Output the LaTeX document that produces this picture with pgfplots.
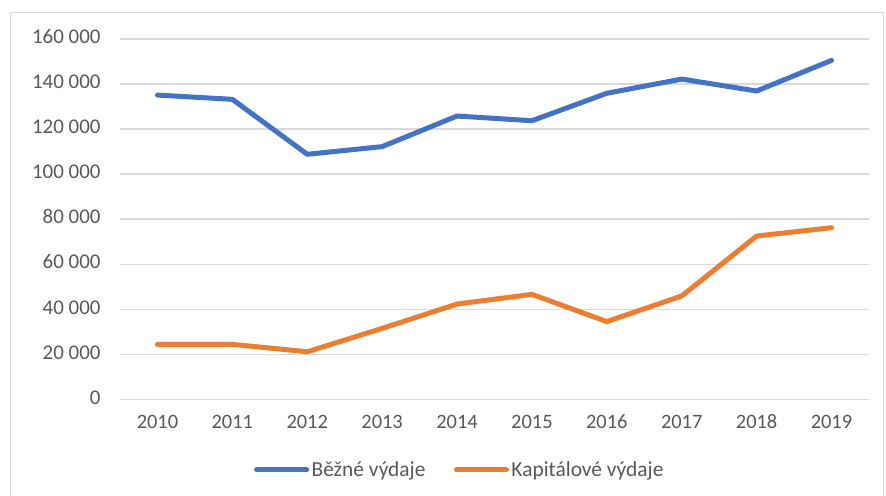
\documentclass[border=0pt]{standalone}
\usepackage{fontspec}
\setmainfont{Carlito}
\usepackage{pgfplots}
\pgfplotsset{compat=1.18}
\definecolor{cblue}{HTML}{4472C4}
\definecolor{corange}{HTML}{ED7D31}
\definecolor{cgrid}{HTML}{D9D9D9}
\definecolor{ctext}{HTML}{595959}
\definecolor{cframe}{HTML}{D9D9D9}
\begin{document}
\begin{tikzpicture}[x=1bp,y=1bp]
\useasboundingbox (0,0) rectangle (886,496);
\fill[white] (0,0) rectangle (886,496);
\draw[cframe, line width=1.3bp] (10.5,-2) -- (10.5,483.5) -- (883.5,483.5) -- (883.5,-2);
\begin{axis}[
  at={(120bp,96.7bp)}, anchor=south west,
  scale only axis, width=749bp, height=360.3bp,
  xmin=2009.5, xmax=2019.5, ymin=0, ymax=160000,
  axis line style={draw=none},
  tick style={draw=none},
  ymajorgrids, grid style={cgrid, line width=1.3bp},
  xtick={2010,...,2019},
  xticklabels={2010,2011,2012,2013,2014,2015,2016,2017,2018,2019},
  ytick={0,20000,40000,60000,80000,100000,120000,140000,160000},
  yticklabels={0,20 000,40 000,60 000,80 000,100 000,120 000,140 000,160 000},
  typeset ticklabels with strut,
  ticklabel style={text=ctext},
  yticklabel style={font=\fontsize{21}{24}\selectfont, xshift=-16bp},
  xticklabel style={font=\fontsize{20.5}{24}\selectfont, yshift=-9bp},
  scaled y ticks=false,
  legend columns=2,
  legend style={at={(0.454,-0.196)}, anchor=center, draw=none, fill=none,
    font=\fontsize{21.5}{24}\selectfont, text=ctext, inner sep=0pt,
    nodes={inner sep=2.5bp},
    /tikz/every even column/.append style={column sep=26bp}},
  legend image code/.code={\draw[#1, line cap=round] (0bp,0bp) -- (50bp,0bp);},
  every axis plot/.append style={line width=5bp, line join=round, line cap=round, mark=none},
]
\addplot[cblue] coordinates {
(2010,135100) (2011,133200) (2012,108800) (2013,112200) (2014,125800)
(2015,123700) (2016,135900) (2017,142200) (2018,136900) (2019,150500)};
\addlegendentry{Běžné výdaje}
\addplot[corange] coordinates {
(2010,24400) (2011,24400) (2012,21100) (2013,31500) (2014,42300)
(2015,46600) (2016,34500) (2017,45900) (2018,72500) (2019,76200)};
\addlegendentry{Kapitálové výdaje}
\end{axis}
\end{tikzpicture}
\end{document}
